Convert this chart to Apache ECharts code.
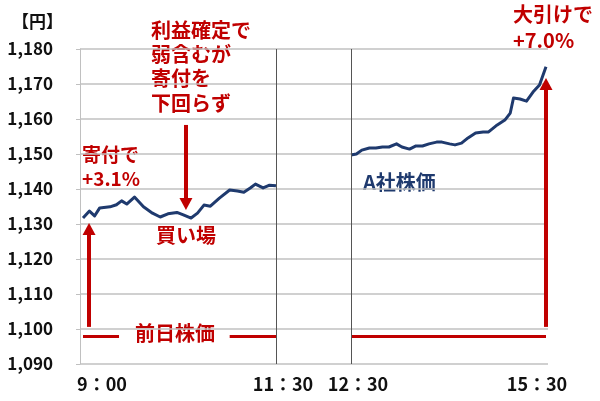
<!DOCTYPE html>
<html>
<head>
<meta charset="utf-8">
<script src="https://cdn.jsdelivr.net/npm/echarts@6/dist/echarts.min.js"></script>
<style>
  html, body { margin: 0; padding: 0; background: #fff; }
  #chart { width: 600px; height: 401px; }
</style>
</head>
<body>
<div id="chart"></div>
<script>
// 前場（9:00からの分）
var amTimes = [0, 5, 9, 13, 21, 26, 30, 34, 40, 47, 54, 60, 66, 73, 78, 84, 89, 94, 99, 106, 114, 120, 125, 130, 134, 140, 145, 150]
var amPrices = [1131.7, 1133.7, 1132.3, 1134.6, 1134.9, 1135.5, 1136.6, 1135.7, 1137.7, 1134.9, 1133.1, 1132.0, 1132.9, 1133.3, 1132.6, 1131.7, 1133.1, 1135.4, 1135.1, 1137.4, 1139.7, 1139.4, 1139.1, 1140.3, 1141.4, 1140.3, 1141.1, 1140.9]
// 後場（12:30からの分）
var pmTimes = [0, 5, 10, 17, 23, 29, 35, 42, 47, 54, 60, 66, 72, 79, 84, 91, 96, 102, 108, 115, 122, 127, 135, 142, 147, 150, 156, 162, 168, 174, 180]
var pmPrices = [1149.7, 1150.0, 1151.1, 1151.7, 1151.7, 1152.0, 1152.0, 1152.9, 1152.0, 1151.4, 1152.3, 1152.3, 1152.9, 1153.4, 1153.4, 1152.9, 1152.6, 1153.1, 1154.6, 1156.0, 1156.3, 1156.3, 1158.3, 1159.7, 1161.7, 1166.0, 1165.7, 1165.1, 1167.7, 1169.7, 1174.9]
var prevClose = 1098
var yMin = 1090
var yMax = 1180
var yStep = 10
var amTickValues = [0, 150]
var amTickLabels = ['9：00', '11：30']
var pmTickValues = [0, 180]
var pmTickLabels = ['12：30', '15：30']

var RED = '#c00000'
var NAVY = '#1f3a6e'
var FONT = 'Noto Sans CJK JP'

var chart = echarts.init(document.getElementById('chart'))

function pairs (xs, ys) {
  return xs.map(function (x, i) { return [x, ys[i]] })
}

function arrow (x, from, to) {
  return [
    { coord: [x, from], symbol: 'none', lineStyle: { color: RED, width: 4, type: 'solid' } },
    { coord: [x, to], symbol: 'triangle', symbolSize: [13, 12] }
  ]
}

function segment (x0, x1, y) {
  return [
    { coord: [x0, y], lineStyle: { color: RED, width: 3, type: 'solid' } },
    { coord: [x1, y] }
  ]
}

function hidden (extra) {
  return Object.assign({
    type: 'value',
    axisLine: { show: false },
    axisTick: { show: false },
    axisLabel: { show: false },
    splitLine: { show: false }
  }, extra)
}

var tickFont = { fontFamily: FONT, fontSize: 18, fontWeight: 'bold', color: '#111' }
var labelRich = {
  l: Object.assign({ padding: [0, 0, 0, 38] }, tickFont),
  m: Object.assign({ padding: [0, 0, 0, 14] }, tickFont),
  r: Object.assign({ padding: [0, 18, 0, 0] }, tickFont)
}

var option = {
  animation: false,
  backgroundColor: '#fff',
  grid: [
    { left: 80, right: 52, top: 49, bottom: 37, containLabel: false, outerBoundsMode: 'none' },
    { left: 83, width: 193, top: 49, bottom: 37, containLabel: false, outerBoundsMode: 'none' },
    { left: 351, width: 195, top: 49, bottom: 37, containLabel: false, outerBoundsMode: 'none' }
  ],
  xAxis: [
    hidden({ gridIndex: 0, min: 0, max: 1 }),
    {
      type: 'value',
      gridIndex: 1,
      min: 0,
      max: 150,
      axisLine: { show: false },
      axisTick: { show: false },
      splitLine: { show: false },
      axisLabel: {
        customValues: amTickValues,
        showMinLabel: true,
        showMaxLabel: true,
        margin: 11,
        formatter: function (v) {
          var i = amTickValues.indexOf(v)
          return '{' + (i === 0 ? 'l' : 'm') + '|' + amTickLabels[i] + '}'
        },
        rich: labelRich
      }
    },
    {
      type: 'value',
      gridIndex: 2,
      min: 0,
      max: 180,
      axisLine: { show: false },
      axisTick: { show: false },
      splitLine: { show: false },
      axisLabel: {
        customValues: pmTickValues,
        showMinLabel: true,
        showMaxLabel: true,
        margin: 11,
        formatter: function (v) {
          var i = pmTickValues.indexOf(v)
          return '{' + (i === 0 ? 'm' : 'r') + '|' + pmTickLabels[i] + '}'
        },
        rich: labelRich
      }
    }
  ],
  yAxis: [
    {
      type: 'value',
      gridIndex: 0,
      min: yMin,
      max: yMax,
      interval: yStep,
      axisLine: { show: true, lineStyle: { color: '#c0c0c0', width: 1 } },
      axisTick: { show: true, length: 4, lineStyle: { color: '#c0c0c0' } },
      splitLine: { show: true, lineStyle: { color: '#c0c0c0', width: 1.5 } },
      axisLabel: {
        margin: 27,
        fontFamily: FONT,
        fontSize: 17,
        fontWeight: 'bold',
        color: '#111',
        formatter: function (v) { return v.toLocaleString('en-US') }
      }
    },
    hidden({ gridIndex: 1, min: yMin, max: yMax }),
    hidden({ gridIndex: 2, min: yMin, max: yMax })
  ],
  series: [
    {
      name: 'A社株価（前場）',
      type: 'line',
      xAxisIndex: 1,
      yAxisIndex: 1,
      data: pairs(amTimes, amPrices),
      showSymbol: false,
      lineStyle: { color: NAVY, width: 3, join: 'round' },
      markLine: {
        silent: true,
        symbol: 'none',
        label: { show: false },
        data: [
          segment(0, 28, prevClose),
          segment(114, 150, prevClose),
          { xAxis: 150, lineStyle: { color: '#555', width: 1, type: 'solid' } },
          arrow(4.7, 1100.6, 1128.6),
          arrow(80, 1158.3, 1135.7)
        ]
      }
    },
    {
      name: 'A社株価（後場）',
      type: 'line',
      xAxisIndex: 2,
      yAxisIndex: 2,
      data: pairs(pmTimes, pmPrices),
      showSymbol: false,
      lineStyle: { color: NAVY, width: 3, join: 'round' },
      markLine: {
        silent: true,
        symbol: 'none',
        label: { show: false },
        data: [
          { yAxis: prevClose, lineStyle: { color: RED, width: 3, type: 'solid' } },
          { xAxis: 0, lineStyle: { color: '#555', width: 1, type: 'solid' } },
          arrow(180, 1100.6, 1170)
        ]
      }
    }
  ],
  graphic: [
    { type: 'text', left: 12, top: 13, style: { text: '【円】', font: 'bold 17px "' + FONT + '"', fill: '#111' } },
    { type: 'text', left: 151, top: 18, style: { text: '利益確定で\n弱含むが\n寄付を\n下回らず', font: 'bold 20px "' + FONT + '"', lineHeight: 24.3, fill: RED } },
    { type: 'text', left: 82, top: 143, style: { text: '寄付で\n+3.1%', font: 'bold 19px "' + FONT + '"', lineHeight: 24, fill: RED } },
    { type: 'text', left: 156, top: 225, style: { text: '買い場', font: 'bold 20px "' + FONT + '"', fill: RED } },
    { type: 'text', left: 135, top: 323, style: { text: '前日株価', font: 'bold 20px "' + FONT + '"', fill: RED } },
    { type: 'text', left: 513, top: 1, style: { text: '大引けで\n+7.0%', font: 'bold 20px "' + FONT + '"', lineHeight: 26, fill: RED } },
    { type: 'text', left: 363, top: 172, style: { text: 'A社株価', font: 'bold 20px "' + FONT + '"', fill: NAVY } }
  ]
}

chart.setOption(option)
</script>
</body>
</html>
